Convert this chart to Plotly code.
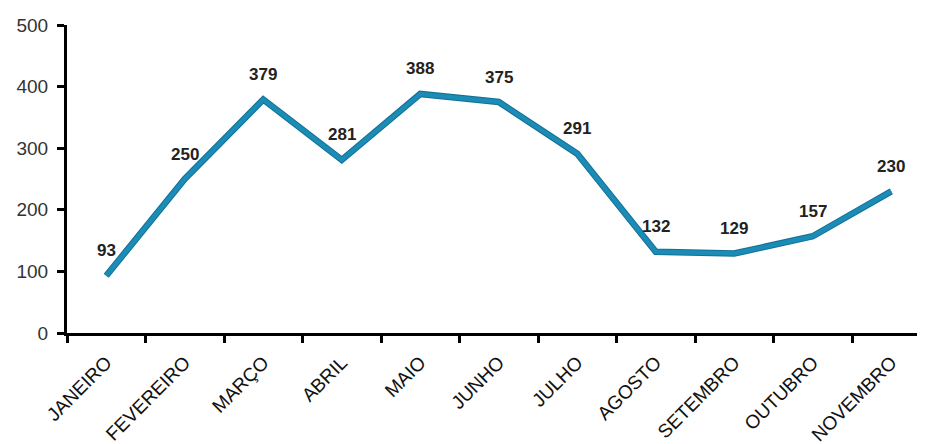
import plotly.graph_objects as go

months = ["JANEIRO", "FEVEREIRO", "MARÇO", "ABRIL", "MAIO", "JUNHO",
          "JULHO", "AGOSTO", "SETEMBRO", "OUTUBRO", "NOVEMBRO"]
values = [93, 250, 379, 281, 388, 375, 291, 132, 129, 157, 230]
y_ticks = [0, 100, 200, 300, 400, 500]

fig = go.Figure()
fig.add_trace(go.Scatter(x=months, y=values, mode="lines",
                         line=dict(color="#146f96", width=6.5),
                         hoverinfo="skip", showlegend=False))
fig.add_trace(go.Scatter(x=months, y=values, mode="lines",
                         line=dict(color="#1a8cb6", width=4.5),
                         showlegend=False))

for m, v in zip(months, values):
    fig.add_annotation(x=m, y=v, text=f"<b>{v}</b>", showarrow=False,
                       yshift=25, font=dict(family="Arial, Liberation Sans", size=17, color="#222222"))

fig.update_layout(
    width=917, height=436,
    margin=dict(l=59, r=0, t=17, b=111),
    paper_bgcolor="white", plot_bgcolor="white",
    font=dict(family="Arial, Liberation Sans", color="#222222"),
    xaxis=dict(type="category", range=[-0.5, 10.43], tickson="boundaries",
               automargin=False,
               showline=True, linecolor="black", linewidth=3,
               ticks="outside", ticklen=7, tickwidth=3, tickcolor="black",
               tickangle=-45, tickfont=dict(size=19, color="#111111"),
               ticklabelstandoff=8,
               showgrid=False, zeroline=False),
    yaxis=dict(range=[0, 500], tickvals=y_ticks, showline=True, linecolor="black",
               automargin=False,
               linewidth=3, ticks="outside", ticklen=7, tickwidth=3, tickcolor="black",
               tickfont=dict(size=19, color="#333333"), ticklabelstandoff=5,
               showgrid=False, zeroline=False),
)

fig.write_html("out.html")
